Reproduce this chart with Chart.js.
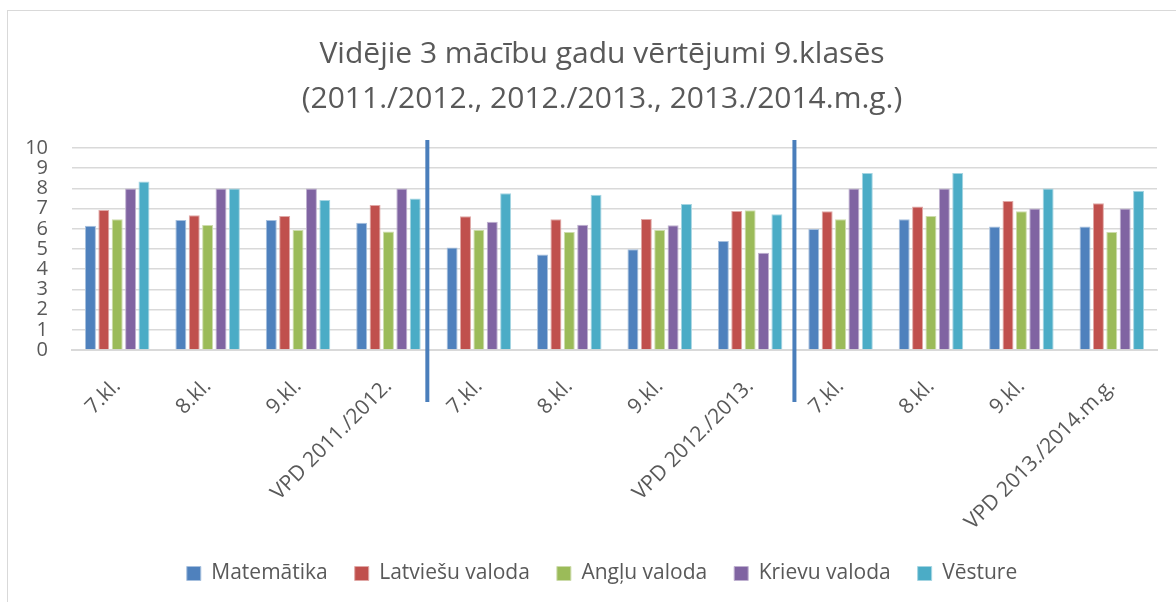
<!DOCTYPE html>
<html>
<head>
<meta charset="utf-8">
<script src="https://cdn.jsdelivr.net/npm/chart.js@4"></script>
<style>
  html, body { margin: 0; padding: 0; background: #fff; overflow: hidden; }
  .frame { position: absolute; left: 7px; top: 10px; width: 1200px; height: 640px; border: 1px solid #d9d9d9; }
  .wrap { position: absolute; left: 0; top: 0; width: 1176px; height: 602px; }
</style>
</head>
<body>
<div class="frame"></div>
<div class="wrap"><canvas id="chart"></canvas></div>
<script>
const categories = ['7.kl.', '8.kl.', '9.kl.', 'VPD 2011./2012.', '7.kl.', '8.kl.', '9.kl.', 'VPD 2012./2013.', '7.kl.', '8.kl.', '9.kl.', 'VPD 2013./2014.m.g.'];
const matematika = [6.15, 6.43, 6.43, 6.30, 5.07, 4.73, 4.99, 5.39, 5.99, 6.47, 6.12, 6.12];
const latviesu = [6.93, 6.67, 6.63, 7.18, 6.62, 6.47, 6.48, 6.88, 6.87, 7.11, 7.38, 7.26];
const anglu = [6.47, 6.19, 5.94, 5.87, 5.95, 5.84, 5.94, 6.92, 6.47, 6.63, 6.87, 5.84];
const krievu = [8.0, 8.0, 8.0, 8.0, 6.35, 6.20, 6.17, 4.81, 8.0, 8.0, 7.0, 7.0];
const vesture = [8.34, 8.0, 7.43, 7.50, 7.76, 7.68, 7.23, 6.72, 8.76, 8.76, 8.0, 7.88];
const yTicks = [0, 1, 2, 3, 4, 5, 6, 7, 8, 9, 10];
// year separators, as fractional category positions
const separators = [3.43, 7.49];

const textColor = '#595959';
const font = 'Open Sans';

const series = [
  { label: 'Matemātika', data: matematika, color: '#4f81bd', edge: '#a7c0de' },
  { label: 'Latviešu valoda', data: latviesu, color: '#c0504d', edge: '#e0a8a6' },
  { label: 'Angļu valoda', data: anglu, color: '#9bbb59', edge: '#cddcac' },
  { label: 'Krievu valoda', data: krievu, color: '#8064a2', edge: '#bfb1d0' },
  { label: 'Vēsture', data: vesture, color: '#4bacc6', edge: '#a5d5e2' },
];

const separatorPlugin = {
  id: 'separators',
  afterLayout(chart) {
    // title and legend sit a little right of the plot centre in the original
    [chart.titleBlock, chart.legend].forEach((box) => {
      if (!box) return;
      box.left += 11;
      box.right += 11;
    });
  },
  afterDatasetsDraw(chart) {
    const { ctx, chartArea, scales: { x } } = chart;
    const step = x.getPixelForTick(1) - x.getPixelForTick(0);
    ctx.save();
    ctx.strokeStyle = '#4a7ebb';
    ctx.lineWidth = 4;
    separators.forEach((pos) => {
      const px = x.getPixelForTick(0) + pos * step;
      ctx.beginPath();
      ctx.moveTo(px, chartArea.top - 8);
      ctx.lineTo(px, chartArea.bottom + 52);
      ctx.stroke();
    });
    ctx.restore();
  }
};

new Chart(document.getElementById('chart'), {
  type: 'bar',
  data: {
    labels: categories,
    datasets: series.map((s) => ({
      label: s.label,
      data: s.data,
      backgroundColor: s.color,
      borderColor: s.edge,
      borderWidth: 1,
      barPercentage: 0.82,
      categoryPercentage: 0.74,
    })),
  },
  options: {
    responsive: true,
    maintainAspectRatio: false,
    animation: false,
    layout: { padding: { left: 25, right: 19, top: 0, bottom: 8 } },
    scales: {
      y: {
        min: 0,
        max: 10,
        afterBuildTicks: (scale) => { scale.ticks = yTicks.map((v) => ({ value: v })); },
        afterFit: (scale) => { scale.width = 47; },
        ticks: {
          autoSkip: false,
          color: textColor,
          font: { family: font, size: 20, lineHeight: 1 },
          padding: 24,
        },
        grid: { color: '#d9d9d9', lineWidth: 1.5, drawTicks: false },
        border: { display: false },
      },
      x: {
        afterFit: (scale) => {
          scale.height = 186;
          scale.paddingLeft = 0;
          scale.paddingRight = 0;
        },
        ticks: {
          autoSkip: false,
          minRotation: 45,
          maxRotation: 45,
          color: textColor,
          font: { family: font, size: 21 },
          padding: 16,
        },
        grid: { display: false },
        border: { color: '#d9d9d9', width: 2 },
      },
    },
    plugins: {
      title: {
        display: true,
        text: ['Vidējie 3 mācību gadu vērtējumi 9.klasēs', '(2011./2012., 2012./2013., 2013./2014.m.g.)'],
        color: textColor,
        font: { family: font, size: 30, weight: 'normal', lineHeight: 1.5 },
        padding: { top: 32, bottom: 26 },
      },
      legend: {
        position: 'bottom',
        labels: {
          color: textColor,
          font: { family: font, size: 21 },
          boxWidth: 14,
          boxHeight: 14,
          padding: 27,
        },
      },
      tooltip: { enabled: false },
    },
  },
  plugins: [separatorPlugin],
});
</script>
</body>
</html>
